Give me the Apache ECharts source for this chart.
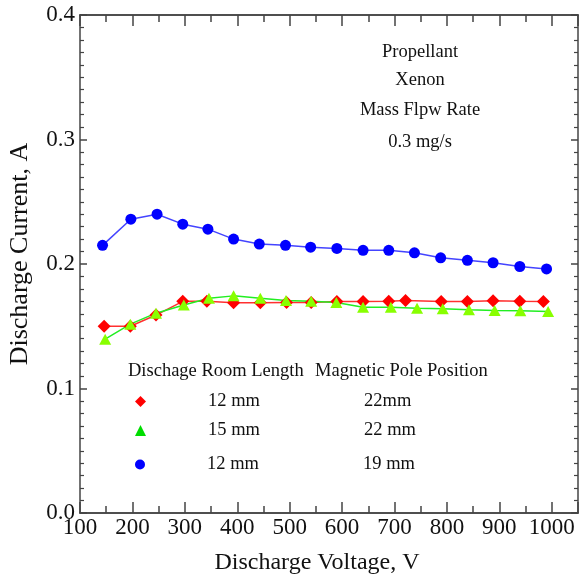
<!DOCTYPE html>
<html><head><meta charset="utf-8">
<script src="https://cdn.jsdelivr.net/npm/echarts@6/dist/echarts.min.js"></script>
<style>html,body{margin:0;padding:0;background:#fff}#c{width:579px;height:575px}</style>
</head><body><div id="c"></div>
<script>
// Discharge voltage (V) and discharge current (A) for each configuration
const voltRed   = [146, 196, 245, 296, 342, 393, 444, 494, 541, 590, 640, 689, 721, 789, 839, 888, 939, 984];
const currRed   = [0.150, 0.150, 0.159, 0.170, 0.170, 0.1688, 0.1688, 0.169, 0.169, 0.1698, 0.1698, 0.170, 0.1706, 0.1698, 0.1698, 0.1705, 0.170, 0.1698];
const voltGreen = [148, 196, 245, 298, 346, 393, 444, 493, 541, 589, 640, 693, 743, 792, 842, 891, 940, 993];
const currGreen = [0.1396, 0.1517, 0.1605, 0.167, 0.1725, 0.1744, 0.1725, 0.1706, 0.170, 0.169, 0.1653, 0.1653, 0.1645, 0.164, 0.1632, 0.1626, 0.1624, 0.1618];
const voltBlue  = [143, 197, 247, 296, 344, 393, 442, 492, 540, 590, 640, 689, 738, 788, 839, 888, 939, 990];
const currBlue  = [0.215, 0.236, 0.240, 0.232, 0.228, 0.220, 0.216, 0.215, 0.2135, 0.2125, 0.211, 0.211, 0.209, 0.205, 0.203, 0.201, 0.198, 0.196];

const seriesNames = ['12 mm|22mm', '15 mm|22 mm', '12 mm|19 mm'];
const annotation = ['Propellant', 'Xenon', 'Mass Flpw Rate', '0.3 mg/s'];
const legendHeader = ['Dischage Room Length', 'Magnetic Pole Position'];
const xTitle = 'Discharge Voltage, V';
const yTitle = 'Discharge Current, A';

const FONT = 'Liberation Serif';
const zip = (a, b) => a.map((v, i) => [v, b[i]]);

const axisLineStyle = { show: true, lineStyle: { color: '#444', width: 1.5 } };
function xAxisDef(pos, interval, tickLen, labels) {
  return {
    type: 'value', position: pos, min: 100, max: 1050, interval: interval,
    axisLine: axisLineStyle,
    axisTick: { show: true, inside: true, length: tickLen, lineStyle: { color: '#444', width: 1.5 } },
    axisLabel: labels ? {
      show: true, margin: 3, color: '#111', fontFamily: FONT, fontSize: 23,
      showMaxLabel: false,
      formatter: v => (v % 100 === 0 && v <= 1000) ? String(v) : ''
    } : { show: false },
    splitLine: { show: false }
  };
}
function yAxisDef(pos, labels) {
  return {
    type: 'value', position: pos, min: 0, max: 0.4, interval: 0.1,
    axisLine: axisLineStyle,
    axisTick: { show: true, inside: true, length: 7, lineStyle: { color: '#444', width: 1.5 } },
    minorTick: { show: true, splitNumber: 10, length: 4, lineStyle: { color: '#444', width: 1.2 } },
    axisLabel: labels ? { show: true, margin: 5, color: '#111', fontFamily: FONT, fontSize: 23, formatter: v => v.toFixed(1) } : { show: false },
    splitLine: { show: false }, minorSplitLine: { show: false }
  };
}

const richLegend = {
  a: { fontFamily: FONT, fontSize: 18.5, color: '#111', width: 156, padding: [0, 0, 0, 57], lineHeight: 20 },
  b: { fontFamily: FONT, fontSize: 18.5, color: '#111', lineHeight: 20 }
};
function legendDef(name, icon, color, top, w, h) {
  return {
    left: 135, top: top, padding: 0, orient: 'vertical', itemWidth: w, itemHeight: h,
    data: [{ name: name, icon: icon, itemStyle: { color: color } }],
    formatter: n => { const p = n.split('|'); return '{a|' + p[0] + '}{b|' + p[1] + '}'; },
    textStyle: { rich: richLegend, fontFamily: FONT, fontSize: 18.5 },
    selectedMode: false
  };
}

const chart = echarts.init(document.getElementById('c'), null, { renderer: 'canvas' });
chart.setOption({
  animation: false,
  backgroundColor: '#fff',
  grid: { left: 80, right: 1, top: 15, bottom: 62, containLabel: false },
  xAxis: [
    xAxisDef('bottom', 50, 7, true),
    xAxisDef('bottom', 100, 11, false),
    xAxisDef('top', 50, 7, false),
    xAxisDef('top', 100, 11, false)
  ],
  yAxis: [yAxisDef('left', true), yAxisDef('right', false)],
  legend: [
    legendDef(seriesNames[0], 'diamond', '#ff0000', 392, 11, 11),
    legendDef(seriesNames[1], 'triangle', '#00dd00', 421, 11, 11),
    legendDef(seriesNames[2], 'circle', '#0000ff', 455, 10, 10)
  ],
  series: [
    { name: seriesNames[0], type: 'line', xAxisIndex: 0, yAxisIndex: 0, data: zip(voltRed, currRed),
      symbol: 'diamond', symbolSize: 13, lineStyle: { color: '#ff3030', width: 1.5 }, itemStyle: { color: '#ff0000' } },
    { name: seriesNames[1], type: 'line', xAxisIndex: 0, yAxisIndex: 0, data: zip(voltGreen, currGreen),
      symbol: 'triangle', symbolSize: [12, 11], lineStyle: { color: '#22ee22', width: 1.5 }, itemStyle: { color: '#88ff00' } },
    { name: seriesNames[2], type: 'line', xAxisIndex: 0, yAxisIndex: 0, data: zip(voltBlue, currBlue),
      symbol: 'circle', symbolSize: 11, lineStyle: { color: '#4444ff', width: 1.5 }, itemStyle: { color: '#0000ff' } }
  ],
  graphic: [
    ...annotation.map((t, i) => ({
      type: 'text', x: 420, y: [52, 80, 110, 142][i],
      style: { text: t, fontFamily: FONT, fontSize: 18.5, fill: '#111', textAlign: 'center', textVerticalAlign: 'middle' }
    })),
    { type: 'text', x: 128, y: 371, style: { text: legendHeader[0], fontFamily: FONT, fontSize: 18.5, fill: '#111', textAlign: 'left', textVerticalAlign: 'middle' } },
    { type: 'text', x: 315, y: 371, style: { text: legendHeader[1], fontFamily: FONT, fontSize: 18.5, fill: '#111', textAlign: 'left', textVerticalAlign: 'middle' } },
    { type: 'text', x: 317, y: 563, style: { text: xTitle, fontFamily: FONT, fontSize: 24, fill: '#111', textAlign: 'center', textVerticalAlign: 'middle' } },
    { type: 'text', x: 20, y: 254, rotation: Math.PI / 2, style: { text: yTitle, fontFamily: FONT, fontSize: 26, fill: '#111', textAlign: 'center', textVerticalAlign: 'middle' } }
  ]
});
</script>
</body></html>
